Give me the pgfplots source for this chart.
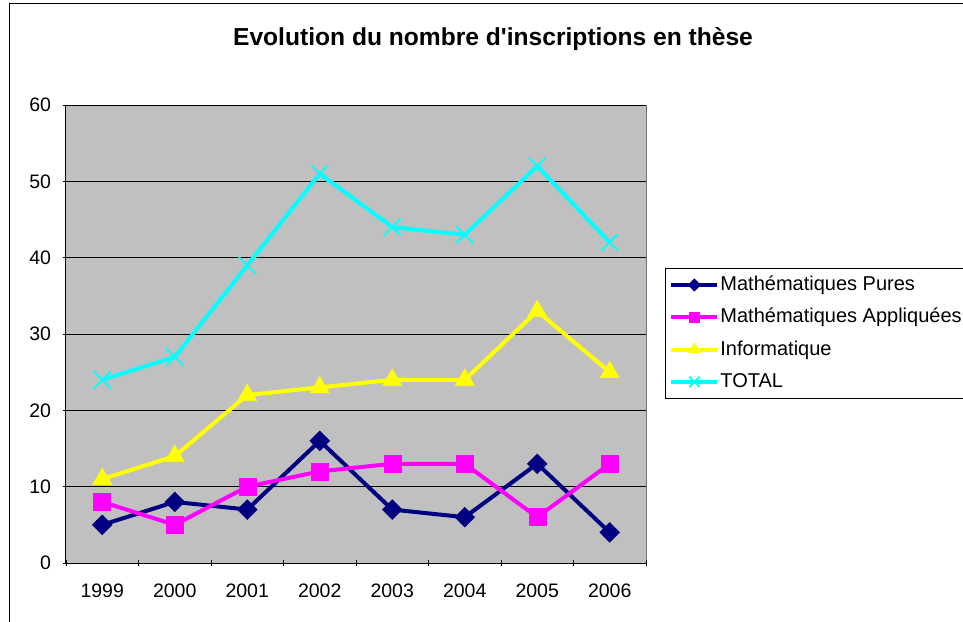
\documentclass[border=0pt]{standalone}
\usepackage{fontspec}
\setmainfont{Liberation Sans}[Ligatures=TeXOff]
\usepackage{pgfplots}
\pgfplotsset{compat=1.18}
\definecolor{bgc}{RGB}{192,192,192}
\definecolor{cnavy}{RGB}{0,0,128}
\definecolor{cmag}{RGB}{255,0,255}
\definecolor{cyel}{RGB}{255,255,0}
\definecolor{ccyan}{RGB}{0,255,255}
\begin{document}
\begin{tikzpicture}[x=1pt,y=1pt]
\useasboundingbox (0,0) rectangle (963,621);
\draw[black, line width=1pt] (9.5,-20) rectangle (1000,617.5);
\node[font=\fontsize{24.6}{29}\selectfont\bfseries] at (493,582) {Evolution du nombre d'inscriptions en thèse};
\begin{axis}[
  at={(66pt,58pt)}, anchor=south west,
  scale only axis, width=580pt, height=458pt,
  xmin=-0.5, xmax=7.5, ymin=0, ymax=60,
  ytick={0,10,...,60},
  xtick={0,...,7},
  xticklabels={1999,2000,2001,2002,2003,2004,2005,2006},
  minor xtick={-0.5,0.5,...,7.5},
  major x tick style={draw=none},
  tick align=outside,
  major tick length=6pt, minor tick length=6pt,
  ymajorgrids, major grid style={black, line width=0.8pt},
  axis background/.style={fill=bgc, draw=gray!90!black, line width=1pt},
  axis lines=left, axis line style={-, black, line width=1pt},
  tick style={black, line width=0.8pt},
  ticklabel style={font=\fontsize{19.5}{23}\selectfont},
  xticklabel style={yshift=-14pt},
  yticklabel style={xshift=-8.5pt},
  /pgf/number format/assume math mode=true,
  clip=false,
  legend style={at={(1.0328,0.644)}, anchor=north west, draw=black, line width=0.8pt,
    fill=white, font=\fontsize{20}{24}\selectfont, row sep=11.3pt,
    inner xsep=4pt, inner ysep=6pt, nodes={inner sep=1pt, text height=15pt, text depth=4pt}},
  legend cell align=left,
  legend image code/.code={\draw[mark repeat=2,mark phase=2] plot coordinates {(0pt,0pt)(23pt,0pt)(46pt,0pt)};},
  legend image post style={/tikz/every mark/.append style={scale=0.62}},
]
\addplot[cnavy, line width=4pt, mark=square*, mark size=7, mark options={rotate=45, solid, line width=0.5pt}]
  coordinates {(0,5)(1,8)(2,7)(3,16)(4,7)(5,6)(6,13)(7,4)};
\addlegendentry{Mathématiques Pures}
\addplot[cmag, line width=4pt, mark=square*, mark size=8.5, mark options={solid, line width=0.5pt}]
  coordinates {(0,8)(1,5)(2,10)(3,12)(4,13)(5,13)(6,6)(7,13)};
\addlegendentry{Mathématiques Appliquées}
\addplot[cyel, line width=4pt, mark=triangle*, mark size=11, mark options={solid, line width=0.5pt}]
  coordinates {(0,11)(1,14)(2,22)(3,23)(4,24)(5,24)(6,33)(7,25)};
\addlegendentry{Informatique}
\addplot[ccyan, line width=4pt, mark=x, mark size=12, mark options={solid, line width=1.8pt}]
  coordinates {(0,24)(1,27)(2,39)(3,51)(4,44)(5,43)(6,52)(7,42)};
\addlegendentry{TOTAL}
\end{axis}
\end{tikzpicture}
\end{document}
